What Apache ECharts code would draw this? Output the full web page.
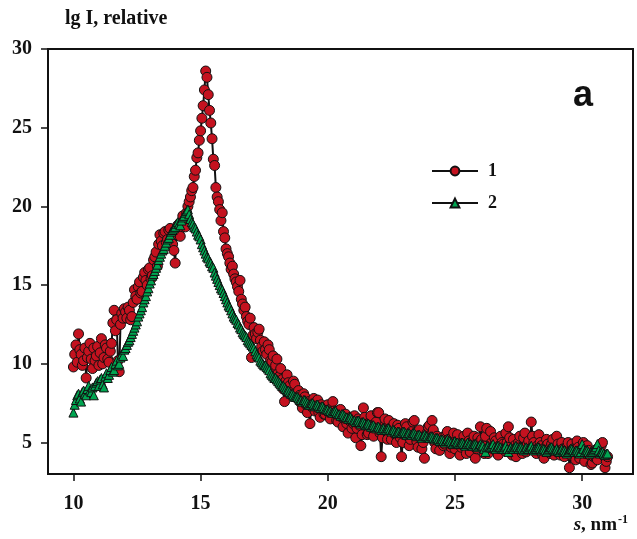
<!DOCTYPE html>
<html>
<head>
<meta charset="utf-8">
<script src="https://cdn.jsdelivr.net/npm/echarts@6/dist/echarts.min.js"></script>
<style>
  html, body { margin: 0; padding: 0; background: #ffffff; }
  #chart { width: 637px; height: 539px; }
</style>
</head>
<body>
<div id="chart"></div>
<script>
// Scattering vector s, nm^-1 (shared by both curves, step 0.05)
const sValues = [
  10.00,10.05,10.10,10.15,10.20,10.25,10.30,10.35,10.40,10.45,
  10.50,10.55,10.60,10.65,10.70,10.75,10.80,10.85,10.90,10.95,
  11.00,11.05,11.10,11.15,11.20,11.25,11.30,11.35,11.40,11.45,
  11.50,11.55,11.60,11.65,11.70,11.75,11.80,11.85,11.90,11.95,
  12.00,12.05,12.10,12.15,12.20,12.25,12.30,12.35,12.40,12.45,
  12.50,12.55,12.60,12.65,12.70,12.75,12.80,12.85,12.90,12.95,
  13.00,13.05,13.10,13.15,13.20,13.25,13.30,13.35,13.40,13.45,
  13.50,13.55,13.60,13.65,13.70,13.75,13.80,13.85,13.90,13.95,
  14.00,14.05,14.10,14.15,14.20,14.25,14.30,14.35,14.40,14.45,
  14.50,14.55,14.60,14.65,14.70,14.75,14.80,14.85,14.90,14.95,
  15.00,15.05,15.10,15.15,15.20,15.25,15.30,15.35,15.40,15.45,
  15.50,15.55,15.60,15.65,15.70,15.75,15.80,15.85,15.90,15.95,
  16.00,16.05,16.10,16.15,16.20,16.25,16.30,16.35,16.40,16.45,
  16.50,16.55,16.60,16.65,16.70,16.75,16.80,16.85,16.90,16.95,
  17.00,17.05,17.10,17.15,17.20,17.25,17.30,17.35,17.40,17.45,
  17.50,17.55,17.60,17.65,17.70,17.75,17.80,17.85,17.90,17.95,
  18.00,18.05,18.10,18.15,18.20,18.25,18.30,18.35,18.40,18.45,
  18.50,18.55,18.60,18.65,18.70,18.75,18.80,18.85,18.90,18.95,
  19.00,19.05,19.10,19.15,19.20,19.25,19.30,19.35,19.40,19.45,
  19.50,19.55,19.60,19.65,19.70,19.75,19.80,19.85,19.90,19.95,
  20.00,20.05,20.10,20.15,20.20,20.25,20.30,20.35,20.40,20.45,
  20.50,20.55,20.60,20.65,20.70,20.75,20.80,20.85,20.90,20.95,
  21.00,21.05,21.10,21.15,21.20,21.25,21.30,21.35,21.40,21.45,
  21.50,21.55,21.60,21.65,21.70,21.75,21.80,21.85,21.90,21.95,
  22.00,22.05,22.10,22.15,22.20,22.25,22.30,22.35,22.40,22.45,
  22.50,22.55,22.60,22.65,22.70,22.75,22.80,22.85,22.90,22.95,
  23.00,23.05,23.10,23.15,23.20,23.25,23.30,23.35,23.40,23.45,
  23.50,23.55,23.60,23.65,23.70,23.75,23.80,23.85,23.90,23.95,
  24.00,24.05,24.10,24.15,24.20,24.25,24.30,24.35,24.40,24.45,
  24.50,24.55,24.60,24.65,24.70,24.75,24.80,24.85,24.90,24.95,
  25.00,25.05,25.10,25.15,25.20,25.25,25.30,25.35,25.40,25.45,
  25.50,25.55,25.60,25.65,25.70,25.75,25.80,25.85,25.90,25.95,
  26.00,26.05,26.10,26.15,26.20,26.25,26.30,26.35,26.40,26.45,
  26.50,26.55,26.60,26.65,26.70,26.75,26.80,26.85,26.90,26.95,
  27.00,27.05,27.10,27.15,27.20,27.25,27.30,27.35,27.40,27.45,
  27.50,27.55,27.60,27.65,27.70,27.75,27.80,27.85,27.90,27.95,
  28.00,28.05,28.10,28.15,28.20,28.25,28.30,28.35,28.40,28.45,
  28.50,28.55,28.60,28.65,28.70,28.75,28.80,28.85,28.90,28.95,
  29.00,29.05,29.10,29.15,29.20,29.25,29.30,29.35,29.40,29.45,
  29.50,29.55,29.60,29.65,29.70,29.75,29.80,29.85,29.90,29.95,
  30.00,30.05,30.10,30.15,30.20,30.25,30.30,30.35,30.40,30.45,
  30.50,30.55,30.60,30.65,30.70,30.75,30.80,30.85,30.90,30.95,
  31.00
];

// Curve 1: lg I (sharp peak near s = 15.2)
const curve1 = [
  9.8,10.6,11.2,10.1,11.9,10.9,10.6,9.9,10.2,11.0,
  9.1,10.4,10.8,11.3,10.3,9.7,11.0,10.2,10.5,11.1,
  9.9,10.7,11.6,10.0,10.4,11.2,11.0,10.3,10.1,10.8,
  11.3,12.6,13.4,12.1,12.8,10.2,9.5,12.5,13.2,12.9,
  13.5,13.3,12.9,13.6,13.4,12.8,13.0,13.9,14.7,14.3,
  14.1,14.9,15.2,14.5,14.6,15.5,15.8,15.3,15.0,16.0,
  16.1,15.4,15.6,16.6,16.8,17.1,16.2,17.6,18.2,17.8,
  17.5,18.3,18.4,17.7,17.9,18.5,18.6,18.0,17.6,17.2,
  16.4,18.2,18.8,18.4,18.1,19.0,19.4,19.1,18.7,19.6,
  20.0,20.3,20.6,21.0,21.2,21.9,22.3,23.1,23.4,24.2,
  24.8,25.6,26.4,27.4,28.6,28.2,27.1,26.1,25.3,24.3,
  23.0,22.6,21.2,20.6,20.3,19.8,19.1,19.6,18.4,18.0,
  17.3,17.0,16.8,16.4,16.0,16.2,15.7,15.4,15.2,14.9,
  14.6,15.3,14.1,13.8,13.4,13.6,13.0,12.7,12.5,12.9,
  10.4,11.8,12.3,11.9,11.6,12.0,12.2,11.5,11.1,10.8,
  11.4,10.9,10.6,11.2,10.9,10.2,10.1,10.5,9.6,9.9,
  10.3,9.4,9.2,9.7,9.0,8.4,7.6,8.9,9.3,8.8,
  8.6,8.1,8.2,8.9,8.7,7.9,7.8,8.3,8.0,7.5,
  7.2,8.1,7.9,7.4,6.9,7.6,6.2,7.3,7.5,7.8,
  7.0,7.3,7.7,6.9,6.6,7.4,7.2,6.8,6.8,7.1,
  7.4,6.9,6.5,7.2,7.6,7.0,6.9,6.4,6.3,6.9,
  7.1,6.6,6.0,6.5,6.8,6.2,5.6,6.4,6.6,5.9,
  6.2,6.7,5.3,5.9,6.5,6.1,4.8,5.5,7.2,6.6,
  6.1,5.5,5.6,6.3,6.7,5.9,5.4,6.0,6.3,6.9,
  6.9,5.6,4.1,5.3,6.0,6.5,5.7,5.2,6.4,5.9,
  5.2,5.8,6.2,5.5,5.0,6.1,5.9,5.3,4.1,5.0,
  5.5,6.2,6.0,5.4,4.8,5.2,5.7,6.3,6.4,5.6,
  5.1,4.7,5.8,5.3,4.6,5.0,4.0,5.4,5.6,6.0,
  6.1,5.5,6.4,5.8,5.0,4.6,5.4,5.1,4.5,5.0,
  5.3,4.8,4.9,5.5,5.7,5.2,4.3,4.7,5.2,5.6,
  4.6,5.0,5.5,4.9,4.2,4.7,5.0,5.4,4.7,4.3,
  5.6,5.1,4.4,4.8,5.1,5.4,4.0,4.6,5.3,5.0,
  6.0,5.2,4.8,4.3,5.4,5.9,4.3,4.7,5.7,5.0,
  4.6,5.3,5.1,4.4,4.2,4.8,5.4,5.0,4.9,4.5,
  5.6,5.0,6.0,5.3,4.5,4.2,5.2,4.8,4.1,4.6,
  5.0,5.4,4.7,4.3,5.3,5.6,4.4,4.9,5.1,4.6,
  6.3,5.4,5.0,4.5,4.3,4.8,5.5,5.0,4.8,4.2,
  4.0,4.7,5.2,4.9,4.6,4.3,4.9,5.2,4.2,4.5,
  5.4,4.9,4.5,4.2,5.0,4.6,4.1,4.5,4.7,5.0,
  3.4,4.2,4.9,4.6,4.3,3.9,5.1,4.7,4.0,4.4,
  4.6,5.0,3.8,4.3,4.8,4.5,4.2,3.6,3.7,4.1,
  4.5,4.0,3.9,4.6,4.4,4.8,5.0,4.2,3.4,3.8,
  4.1
];

// Curve 2: lg I (broad maximum near s = 14.5)
const curve2 = [
  6.9,7.4,7.7,8.0,8.1,7.8,7.6,8.2,8.3,8.1,
  8.0,8.4,8.6,8.3,8.2,8.5,8.0,8.6,8.8,8.9,
  8.6,9.0,9.1,8.7,8.5,9.2,9.4,9.1,9.3,9.6,
  9.8,9.5,9.6,10.0,10.2,9.9,10.0,10.4,10.6,10.5,
  10.9,11.0,11.2,11.4,11.5,11.7,11.9,12.1,12.3,12.5,
  12.7,13.0,13.2,13.4,13.6,13.9,14.1,14.3,14.6,14.8,
  15.1,15.3,15.6,15.7,15.9,16.1,16.3,16.6,16.8,17.0,
  17.2,17.3,17.5,17.7,17.9,18.0,18.2,18.4,18.5,18.6,
  18.7,18.9,19.0,18.9,18.8,19.1,19.3,19.4,19.6,19.7,
  19.8,19.5,19.2,19.0,18.9,18.7,18.6,18.4,18.2,18.1,
  17.9,17.6,17.4,17.2,17.0,16.8,16.7,16.5,16.4,16.2,
  16.1,15.8,15.6,15.4,15.2,15.0,14.8,14.7,14.5,14.3,
  14.1,13.9,13.7,13.6,13.4,13.2,13.0,12.9,12.8,12.6,
  12.5,12.3,12.2,12.0,11.9,11.8,11.7,11.5,11.4,11.3,
  11.2,11.1,11.0,10.8,10.6,10.5,10.4,10.2,10.1,10.0,
  9.9,9.9,9.8,9.7,9.6,9.4,9.3,9.2,9.1,9.1,
  9.0,8.9,8.8,8.7,8.6,8.6,8.5,8.4,8.3,8.3,
  8.2,8.1,8.1,8.0,7.9,7.9,7.9,7.8,7.7,7.7,
  7.6,7.7,7.7,7.6,7.5,7.4,7.4,7.5,7.5,7.4,
  7.3,7.4,7.4,7.3,7.2,7.3,7.3,7.2,7.1,7.1,
  7.1,7.0,7.0,6.9,6.9,7.0,7.0,6.9,6.8,6.8,
  6.7,6.8,6.8,6.7,6.6,6.6,6.5,6.6,6.6,6.5,
  6.4,6.4,6.3,6.4,6.4,6.3,6.2,6.3,6.3,6.2,
  6.1,6.2,6.2,6.1,6.0,6.1,6.1,6.0,5.9,6.0,
  6.0,5.9,5.8,5.9,5.9,5.8,5.8,5.9,5.9,5.8,
  5.7,5.8,5.8,5.7,5.6,5.7,5.7,5.6,5.6,5.7,
  5.7,5.6,5.5,5.6,5.6,5.5,5.5,5.6,5.6,5.5,
  5.4,5.5,5.5,5.4,5.3,5.4,5.5,5.4,5.4,5.3,
  5.3,5.4,5.4,5.3,5.2,5.3,5.3,5.2,5.1,5.2,
  5.2,5.1,5.0,5.1,5.2,5.1,5.1,5.0,4.9,5.0,
  5.1,5.0,5.0,4.9,4.9,5.0,5.0,4.9,4.8,4.9,
  5.0,4.9,4.9,4.8,4.8,4.9,4.9,4.8,4.7,4.8,
  4.9,4.8,4.8,4.6,4.4,4.7,4.8,4.7,4.7,4.8,
  4.9,4.7,4.6,4.7,4.8,4.7,4.7,4.6,4.6,4.7,
  4.8,4.6,4.4,4.6,4.7,4.6,4.6,4.7,4.8,4.7,
  4.6,4.7,4.7,4.6,4.5,4.6,4.7,4.6,4.6,4.7,
  4.8,4.6,4.5,4.6,4.6,4.7,4.7,4.6,4.5,4.6,
  4.6,4.5,4.4,4.5,4.6,4.7,4.7,4.6,4.5,4.5,
  4.6,4.5,4.4,4.5,4.6,4.5,4.5,4.4,4.3,4.4,
  4.5,4.6,4.6,4.5,4.4,4.5,4.5,4.4,4.3,4.4,
  4.9,4.6,4.4,4.5,4.5,4.4,4.3,4.4,4.4,4.5,
  4.6,4.7,4.9,4.5,4.3,4.4,4.4,4.3,4.2,4.3,
  4.3
];

const xTicks = [10, 15, 20, 25, 30];
const yTicks = [5, 10, 15, 20, 25, 30];
const seriesNames = ['1', '2'];

const SERIF = '"Liberation Serif", "Times New Roman", serif';
const toPairs = (ys) => sValues.map((s, i) => [s, ys[i]]);

const chart = echarts.init(document.getElementById('chart'), null, { renderer: 'canvas' });

chart.setOption({
  backgroundColor: '#ffffff',
  animation: false,
  grid: {
    left: 48, right: 4, top: 49, bottom: 65,
    show: true, borderColor: '#111', borderWidth: 2, backgroundColor: 'transparent'
  },
  legend: {
    data: seriesNames,
    orient: 'vertical',
    left: 426, top: 157,
    itemWidth: 46, itemHeight: 11, itemGap: 14,
    textStyle: { fontFamily: SERIF, fontWeight: 'bold', fontSize: 18, color: '#111', padding: [0, 0, 0, 5] }
  },
  xAxis: {
    type: 'value', min: 9, max: 32,
    axisLine: { show: true, onZero: false, lineStyle: { color: '#111', width: 2 } },
    axisTick: { show: true, inside: false, length: 7, lineStyle: { color: '#111', width: 1.5 }, customValues: xTicks },
    axisLabel: { customValues: xTicks, margin: 20, fontFamily: SERIF, fontWeight: 'bold', fontSize: 20, color: '#111' },
    splitLine: { show: false }
  },
  yAxis: {
    type: 'value', min: 3, max: 30,
    axisLine: { show: true, onZero: false, lineStyle: { color: '#111', width: 2 } },
    axisTick: { show: true, inside: false, length: 7, lineStyle: { color: '#111', width: 1.5 }, customValues: yTicks },
    axisLabel: { customValues: yTicks, margin: 16, fontFamily: SERIF, fontWeight: 'bold', fontSize: 20, color: '#111' },
    splitLine: { show: false }
  },
  series: [
    {
      name: seriesNames[0],
      type: 'line',
      data: toPairs(curve1),
      symbol: 'circle',
      symbolSize: 10,
      showAllSymbol: true,
      itemStyle: { color: '#c4121f', borderColor: '#111', borderWidth: 1 },
      lineStyle: { color: '#111', width: 2 },
      z: 2
    },
    {
      name: seriesNames[1],
      type: 'line',
      data: toPairs(curve2),
      symbol: 'triangle',
      symbolSize: 9,
      showAllSymbol: true,
      itemStyle: { color: '#00a651', borderColor: '#111', borderWidth: 1 },
      lineStyle: { color: '#111', width: 2 },
      z: 3
    }
  ],
  graphic: [
    {
      type: 'text', left: 65, top: 9,
      style: { text: 'lg I, relative', font: 'bold 20px ' + SERIF, fill: '#111' }
    },
    {
      type: 'text', right: 9, top: 514,
      style: {
        text: '{i|s}{n|, nm}{sup|-1}',
        rich: {
          i: { fontFamily: SERIF, fontStyle: 'italic', fontWeight: 'bold', fontSize: 19, fill: '#111' },
          n: { fontFamily: SERIF, fontWeight: 'bold', fontSize: 19, fill: '#111' },
          sup: { fontFamily: SERIF, fontWeight: 'bold', fontSize: 12, fill: '#111', padding: [0, 0, 11, 1] }
        }
      }
    },
    {
      type: 'text', left: 573, top: 78,
      style: { text: 'a', font: 'bold 36px "Liberation Sans", Arial, sans-serif', fill: '#111' }
    }
  ]
});
</script>
</body>
</html>
